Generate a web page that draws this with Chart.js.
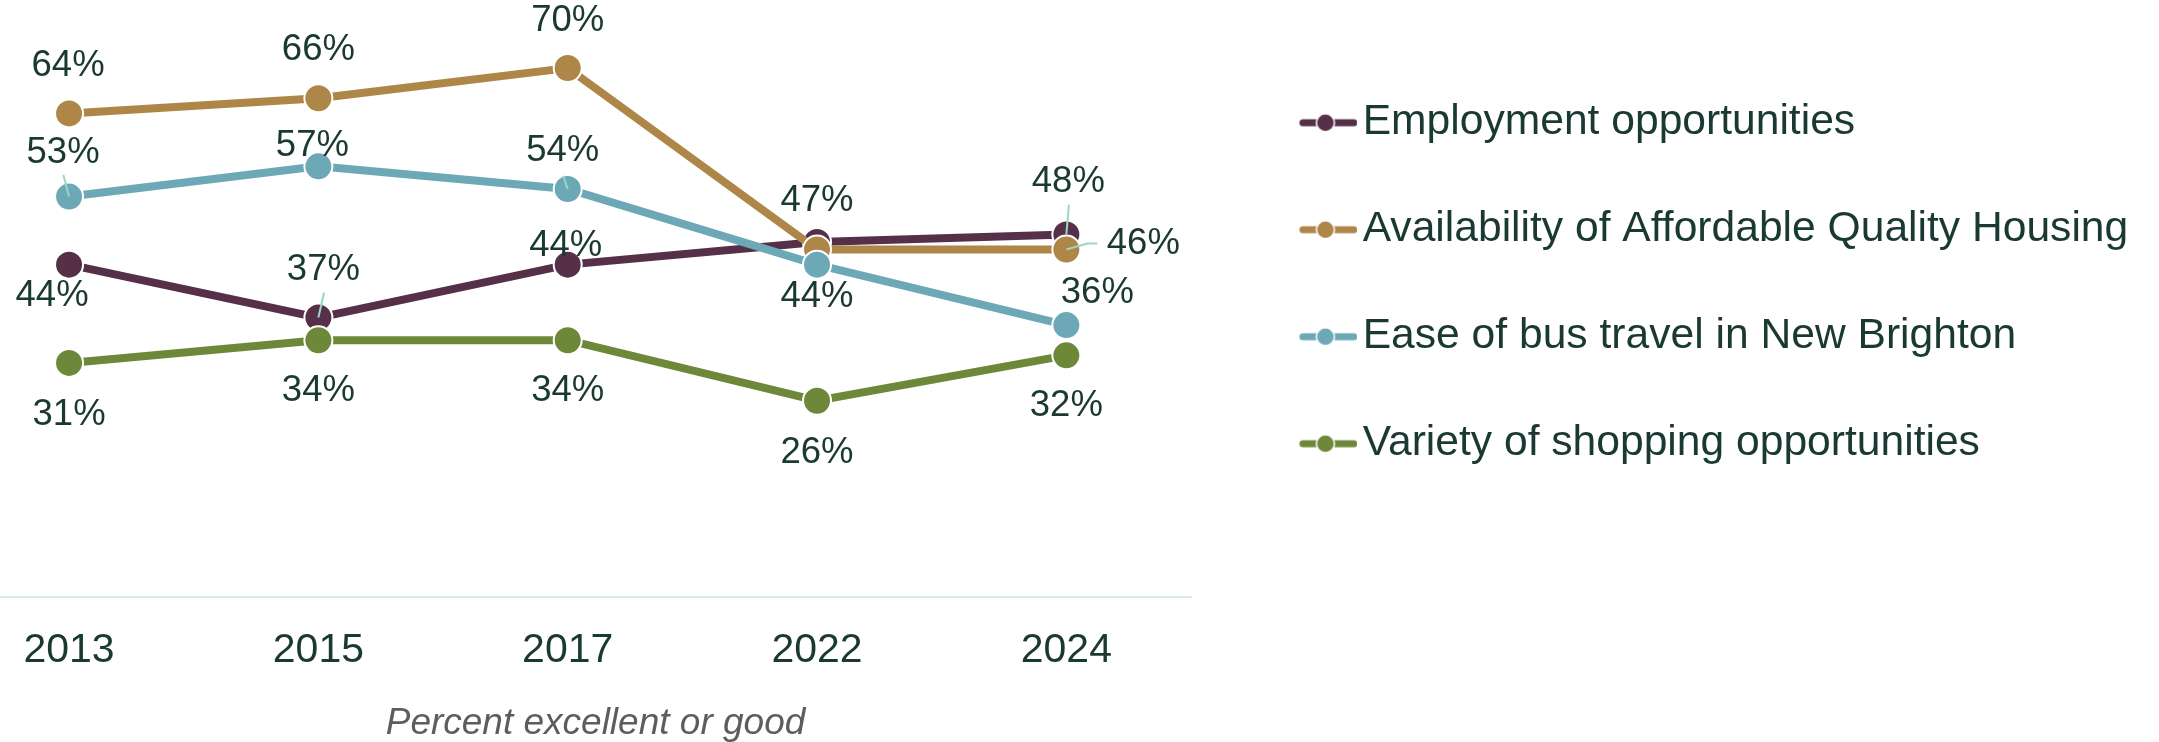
<!DOCTYPE html>
<html>
<head>
<meta charset="utf-8">
<script src="https://cdn.jsdelivr.net/npm/chart.js@4.4.1/dist/chart.umd.min.js"></script>
<style>
  html, body { margin: 0; padding: 0; background: #ffffff; }
  #wrap { position: relative; width: 2159px; height: 742px; }
</style>
</head>
<body>
<div id="wrap"><canvas id="c"></canvas></div>
<script>
// ---- Data ----
const categories = ['2013', '2015', '2017', '2022', '2024'];
const seriesNames = [
  'Employment opportunities',
  'Availability of Affordable Quality Housing',
  'Ease of bus travel in New Brighton',
  'Variety of shopping opportunities'
];
const employment = [44, 37, 44, 47, 48];
const housing    = [64, 66, 70, 46, 46];
const bus        = [53, 57, 54, 44, 36];
const shopping   = [31, 34, 34, 26, 32];
const axisTitle = 'Percent excellent or good';

// ---- Styles ----
const colors = ['#553048', '#ae8648', '#6ca8b6', '#6c8838'];
const textColor = '#1a3932';
const fontFamily = '"Liberation Sans", Arial, Helvetica, sans-serif';

// label offsets (px) relative to each point; null = no label
const labelOffsets = [
  [[-17, 31], [5, -48], [-2, -19], [0, -41], [2, -52]],
  [[-1, -47], [0, -48], [0, -47], null, [77, -6]],
  [[-6, -44], [-6, -20], [-5, -38], [0, 32], [31, -32]],
  [[0, 52], [0, 51], [0, 51], [0, 52], [0, 51]]
];
// leader line paths (offsets relative to the point)
const leaders = [
  [null, [[5.7, -25]], null, null, [[2.6, -29.6]]],
  [null, null, null, null, [[21, -6], [31, -6]]],
  [[[-5.7, -21.7]], null, [[-4.4, -13.3]], null, null],
  [null, null, null, null, null]
];

const seriesValues = [employment, housing, bus, shopping];

// legend marker images (line + dot)
function legendMarker(color) {
  const c = document.createElement('canvas');
  c.width = 118; c.height = 30;
  const g = c.getContext('2d');
  g.strokeStyle = color;
  g.lineWidth = 7;
  g.lineCap = 'round';
  g.beginPath();
  g.moveTo(63.5, 15); g.lineTo(114.5, 15);
  g.stroke();
  g.beginPath();
  g.arc(86, 15, 9, 0, Math.PI * 2);
  g.fillStyle = color; g.fill();
  g.lineWidth = 1.5; g.strokeStyle = '#ffffff'; g.stroke();
  return c;
}
const markers = colors.map(legendMarker);

// compute right padding so legend sits at the right place
const legendPad = 64.4, legendBox = 86, legendFont = 42.6;
const mctx = document.createElement('canvas').getContext('2d');
mctx.font = legendFont + 'px ' + fontFamily;
const maxText = Math.max(...seriesNames.map(s => mctx.measureText(s).width));
const legendWidth = legendPad + legendBox + legendFont / 2 + maxText + 10;
const padRight = Math.max(0, 2159 - 1191 - legendWidth);

const labelPlugin = {
  id: 'valueLabels',
  afterDatasetsDraw(chart) {
    const ctx = chart.ctx;
    ctx.save();
    // leader lines
    ctx.strokeStyle = '#9ad6c6';
    ctx.lineWidth = 2;
    seriesValues.forEach((vals, di) => {
      const meta = chart.getDatasetMeta(di);
      meta.data.forEach((pt, pi) => {
        const path = leaders[di][pi];
        if (!path) return;
        ctx.beginPath();
        ctx.moveTo(pt.x, pt.y);
        path.forEach(p => ctx.lineTo(pt.x + p[0], pt.y + p[1]));
        ctx.stroke();
      });
    });
    // text
    ctx.fillStyle = textColor;
    ctx.font = '36.5px ' + fontFamily;
    ctx.textAlign = 'center';
    ctx.textBaseline = 'middle';
    seriesValues.forEach((vals, di) => {
      const meta = chart.getDatasetMeta(di);
      meta.data.forEach((pt, pi) => {
        const off = labelOffsets[di][pi];
        if (!off) return;
        ctx.fillText(vals[pi] + '%', pt.x + off[0], pt.y + off[1]);
      });
    });
    ctx.restore();
  }
};

const datasets = seriesValues.map((vals, i) => ({
  label: seriesNames[i],
  data: vals.map((v, j) => ({ x: j, y: v })),
  borderColor: colors[i],
  backgroundColor: colors[i],
  borderWidth: 8,
  pointRadius: 14,
  pointHoverRadius: 14,
  pointBorderColor: '#ffffff',
  pointBorderWidth: 2,
  pointBackgroundColor: colors[i],
  tension: 0,
  order: 4 - i,
  clip: false
}));

new Chart(document.getElementById('c'), {
  type: 'line',
  data: { datasets },
  plugins: [labelPlugin],
  options: {
    responsive: true,
    maintainAspectRatio: false,
    animation: false,
    devicePixelRatio: 1,
    layout: { autoPadding: false, padding: { top: 0, left: 0, bottom: 0, right: padRight } },
    scales: {
      x: {
        type: 'linear',
        min: -0.277,
        max: 4.5,
        grid: { display: false, drawTicks: true, tickLength: 29 },
        border: { display: true, color: '#d5ede6', width: 2 },
        afterBuildTicks: (scale) => { scale.ticks = categories.map((c, i) => ({ value: i })); },
        ticks: {
          autoSkip: false,
          maxRotation: 0,
          padding: 0,
          color: textColor,
          font: { family: fontFamily, size: 41, lineHeight: 1.2 },
          callback: (v) => categories[v]
        },
        title: {
          display: true,
          text: axisTitle,
          color: '#5a5e5d',
          font: { family: fontFamily, size: 37, style: 'italic', lineHeight: 1 },
          padding: { top: 29.5, bottom: 0 }
        }
      },
      y: {
        display: false,
        min: 0,
        max: 79
      }
    },
    plugins: {
      tooltip: { enabled: false },
      legend: {
        position: 'right',
        align: 'start',
        title: { display: true, text: '', font: { size: 12, lineHeight: 1 }, padding: { top: 25, bottom: 0 } },
        labels: {
          usePointStyle: true,
          pointStyleWidth: legendBox,
          padding: legendPad,
          color: textColor,
          font: { family: fontFamily, size: legendFont },
          generateLabels: (chart) => chart.data.datasets.map((ds, i) => ({
            text: ds.label,
            pointStyle: markers[i],
            fillStyle: colors[i],
            strokeStyle: colors[i],
            lineWidth: 0,
            fontColor: textColor,
            hidden: false,
            datasetIndex: i
          }))
        }
      }
    }
  }
});
</script>
</body>
</html>
